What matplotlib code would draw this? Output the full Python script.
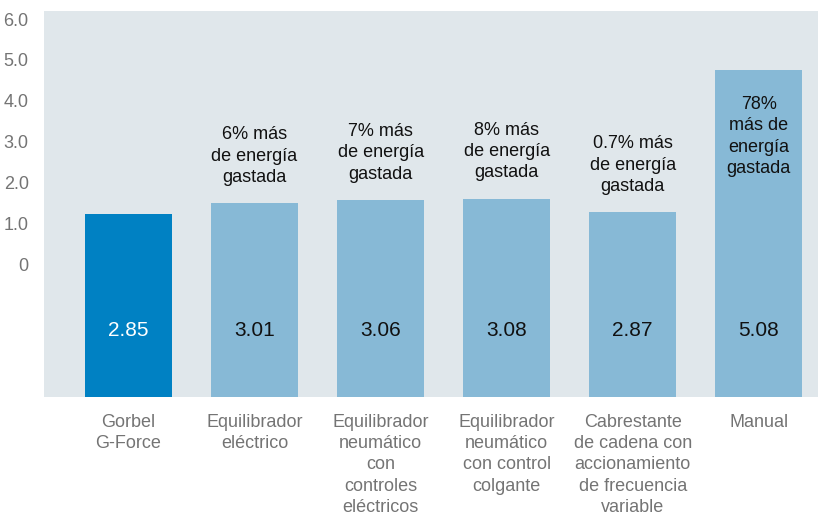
import numpy as np
import matplotlib
matplotlib.use('Agg')
import matplotlib.pyplot as plt

plt.rcParams['font.family'] = ['Liberation Sans', 'DejaVu Sans']

# data
categories = ['Gorbel\nG-Force',
              'Equilibrador\neléctrico',
              'Equilibrador\nneumático\ncon\ncontroles\neléctricos',
              'Equilibrador\nneumático\ncon control\ncolgante',
              'Cabrestante\nde cadena con\naccionamiento\nde frecuencia\nvariable',
              'Manual']
values = [2.85, 3.01, 3.06, 3.08, 2.87, 5.08]
notes = ['',
         '6% más\nde energía\ngastada',
         '7% más\nde energía\ngastada',
         '8% más\nde energía\ngastada',
         '0.7% más\nde energía\ngastada',
         '78%\nmás de\nenergía\ngastada']
ytick_labels = ['0', '1.0', '2.0', '3.0', '4.0', '5.0', '6.0']

dark_blue = '#0081c3'
light_blue = '#87b9d6'
bg = '#e0e7eb'

fig = plt.figure(figsize=(8.22, 5.12), dpi=100)
ax = fig.add_axes([44/822, 115/512, 774/822, 386/512])
ax.set_facecolor(bg)

x = np.arange(len(values))
colors = [dark_blue] + [light_blue]*(len(values)-1)
ax.bar(x, values, width=0.69, color=colors, zorder=2)

ax.set_xlim(-0.67, 5.47)
ax.set_ylim(0, 6.0)
ax.set_xticks(x)
ax.set_xticklabels(categories, fontsize=13, color='#747474', linespacing=1.33)
ax.tick_params(axis='x', length=0, pad=12)
ax.set_yticks([])
for s in ax.spines.values():
    s.set_visible(False)

# value labels inside bars
for i, v in enumerate(values):
    c = 'white' if i == 0 else '#111111'
    ax.text(i, 1.03, f'{v:.2f}', ha='center', va='center', fontsize=15, color=c, zorder=3)

# notes above bars (inside for the tallest)
for i, (v, n) in enumerate(zip(values, notes)):
    if not n:
        continue
    if v > 4.5:
        ax.text(i, v - 0.4, n, ha='center', va='top', fontsize=13, color='#111111',
                linespacing=1.33, zorder=3)
    else:
        ax.text(i, v + 0.27, n, ha='center', va='bottom', fontsize=13, color='#111111',
                linespacing=1.33, zorder=3)

# the left scale labels, drawn on their own compressed scale
ax2 = ax.twinx()
ax2.set_ylim(-3.257, 6.196)
ax2.set_yticks(np.arange(len(ytick_labels)))
ax2.set_yticklabels(ytick_labels, fontsize=13, color='#747474')
ax2.yaxis.set_ticks_position('left')
ax2.tick_params(axis='y', length=0, pad=11)
for s in ax2.spines.values():
    s.set_visible(False)

fig.savefig('out.png', dpi=100)
